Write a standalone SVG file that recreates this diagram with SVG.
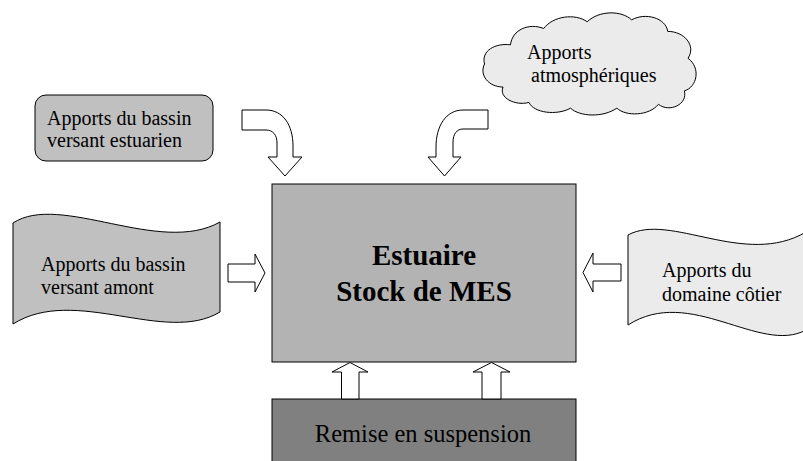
<svg xmlns="http://www.w3.org/2000/svg" width="803" height="461" viewBox="0 0 803 461">
<style>
.shape{stroke:#000;stroke-width:1}
.arrow{fill:#fff;stroke:#000;stroke-width:1;stroke-linejoin:miter}
.lbl{font-family:"Liberation Serif","Times New Roman",serif;font-size:20px;fill:#000}
.big{font-family:"Liberation Serif","Times New Roman",serif;font-size:29px;font-weight:bold;fill:#000;text-anchor:middle}
.mid{font-family:"Liberation Serif","Times New Roman",serif;font-size:24.5px;fill:#000;text-anchor:middle}
</style>
<rect width="803" height="461" fill="#fff"/>
<g id="estuaire">
<rect class="shape" x="272" y="184" width="304" height="178" fill="#b3b3b3"/>
<text class="big" x="424" y="265">Estuaire</text>
<text class="big" x="424" y="301">Stock de MES</text>
</g>
<g id="remise">
<rect class="shape" x="272" y="399" width="304" height="70" fill="#808080"/>
<text class="mid" x="423" y="442">Remise en suspension</text>
</g>
<g id="bassin-estuarien">
<rect class="shape" x="35" y="95" width="178" height="66" rx="11" ry="11" fill="#c0c0c0"/>
<text class="lbl" x="47" y="125">Apports du bassin</text>
<text class="lbl" x="47" y="147">versant estuarien</text>
</g>
<g id="atmospheriques">
<path class="shape" fill="#ebebeb" vector-effect="non-scaling-stroke" transform="translate(590,64) scale(0.925,0.96) translate(-586,-64)" d="M472,64 C468,50 484,42 500,44 C502,28 520,21 536,27 C546,14 570,11 583,20 C596,8 620,8 631,18 C646,10 668,16 670,30 C688,30 701,45 692,58 C706,68 702,88 688,92 C692,106 672,115 660,106 C650,118 625,119 615,110 C600,120 575,119 565,110 C550,118 525,115 520,104 C505,108 487,99 492,88 C476,88 466,75 472,64 Z"/>
<text class="lbl" x="527" y="59">Apports</text>
<text class="lbl" x="531" y="82">atmosphériques</text>
</g>
<g id="bassin-amont">
<path class="shape" fill="#c0c0c0" d="M13,223 C60,192 160,256 220,222 L220,312 C165,345 75,285 13,324 Z"/>
<text class="lbl" x="41" y="271">Apports du bassin</text>
<text class="lbl" x="41" y="294">versant amont</text>
</g>
<g id="domaine-cotier">
<path class="shape" fill="#ebebeb" d="M628,235 C670,212 745,268 806,232 L806,330 C760,355 690,285 628,325 Z"/>
<text class="lbl" x="662" y="277">Apports du</text>
<text class="lbl" x="662" y="301">domaine côtier</text>
</g>
<g id="connectors">
<path class="arrow" d="M242,110 H266 C283,110 293,125 293,146 V157 H302 L285,176 L268,157 H277 V143 C277,135 273,130 266,130 H242 Z"/>
<path class="arrow" d="M488,110 H463 C446,110 436,126 436,147 V157 H428 L444.5,176 L461,157 H453 V142 C453,134 457,129 463,129 H488 Z"/>
<path class="arrow" d="M228,264 H255 V254 L265,273 L255,292 V282 H228 Z"/>
<path class="arrow" d="M621,264 H593 V253 L583,272.5 L593,292 V281 H621 Z"/>
<path class="arrow" d="M341.5,399 V372 H332 L350,362.5 L368,372 H359 V399 Z"/>
<path class="arrow" d="M482,399 V372 H473 L491.5,362.5 L510,372 H501 V399 Z"/>
</g>
</svg>
